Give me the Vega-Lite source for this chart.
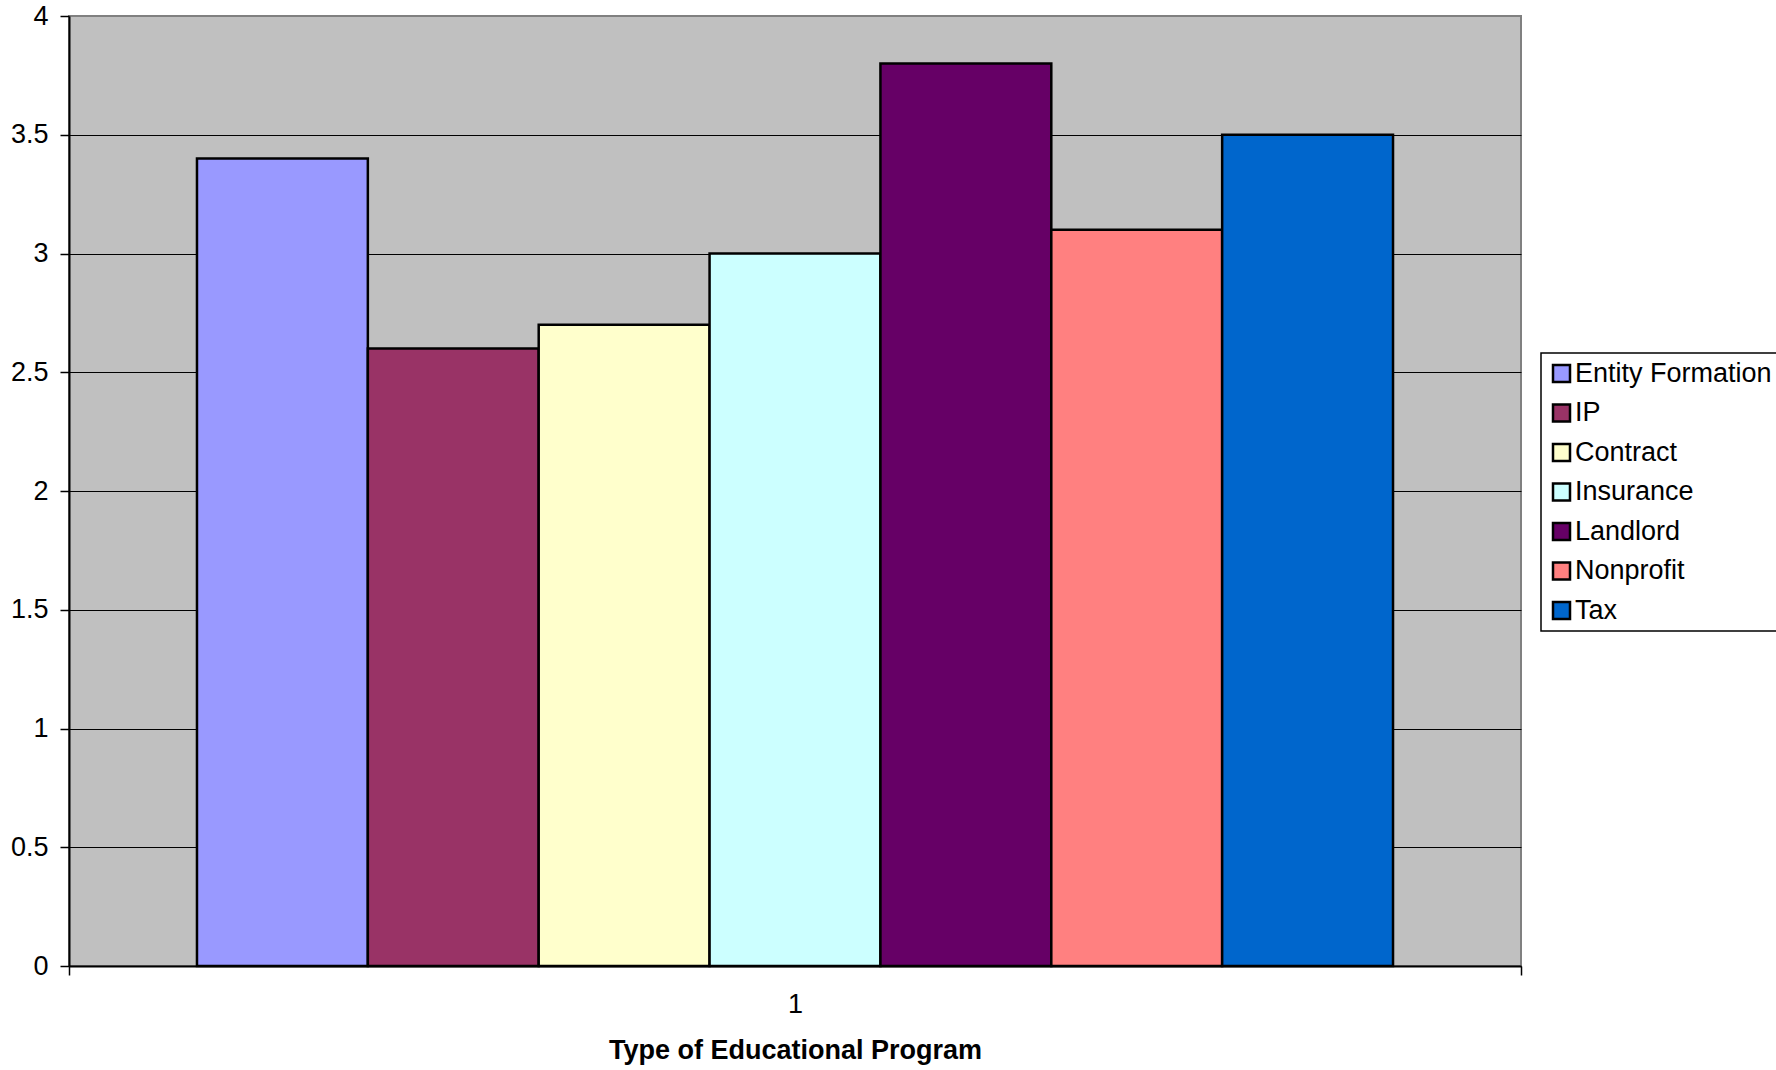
{
  "$schema": "https://vega.github.io/schema/vega-lite/v6.json",
  "width": 1452,
  "height": 950,
  "autosize": {"type": "none"},
  "padding": {"left": 69, "top": 16, "right": 255, "bottom": 104},
  "background": "white",
  "data": {
    "values": [
      {"program": "1", "category": "Entity Formation", "value": 3.4},
      {"program": "1", "category": "IP", "value": 2.6},
      {"program": "1", "category": "Contract", "value": 2.7},
      {"program": "1", "category": "Insurance", "value": 3.0},
      {"program": "1", "category": "Landlord", "value": 3.8},
      {"program": "1", "category": "Nonprofit", "value": 3.1},
      {"program": "1", "category": "Tax", "value": 3.5}
    ]
  },
  "mark": {"type": "bar", "stroke": "black", "strokeWidth": 2.5},
  "encoding": {
    "x": {
      "field": "program",
      "type": "nominal",
      "scale": {"paddingInner": 0, "paddingOuter": 0},
      "axis": {
        "labelAngle": 0,
        "labelFontSize": 27,
        "labelColor": "black",
        "labelPadding": 16,
        "domainColor": "black",
        "domainWidth": 2,
        "ticks": true,
        "tickBand": "extent",
        "tickSize": 9,
        "tickColor": "black",
        "tickWidth": 1.5,
        "title": "Type of Educational Program",
        "titleFontSize": 27,
        "titleFontWeight": "bold",
        "titleColor": "black",
        "titlePadding": 20
      }
    },
    "xOffset": {
      "field": "category",
      "type": "nominal",
      "sort": ["Entity Formation", "IP", "Contract", "Insurance", "Landlord", "Nonprofit", "Tax"],
      "scale": {"paddingInner": 0, "paddingOuter": 0.749}
    },
    "y": {
      "field": "value",
      "type": "quantitative",
      "scale": {"domain": [0, 4], "nice": false, "zero": true},
      "axis": {
        "values": [0, 0.5, 1, 1.5, 2, 2.5, 3, 3.5, 4],
        "format": "~f",
        "title": null,
        "labelFontSize": 27,
        "labelColor": "black",
        "labelPadding": 12,
        "grid": true,
        "gridColor": {"condition": {"test": "datum.value == 4", "value": "#808080"}, "value": "black"},
        "gridWidth": 1,
        "domainColor": "black",
        "domainWidth": 2,
        "tickColor": "black",
        "tickSize": 9,
        "tickWidth": 1.5
      }
    },
    "color": {
      "field": "category",
      "type": "nominal",
      "sort": ["Entity Formation", "IP", "Contract", "Insurance", "Landlord", "Nonprofit", "Tax"],
      "scale": {
        "domain": ["Entity Formation", "IP", "Contract", "Insurance", "Landlord", "Nonprofit", "Tax"],
        "range": ["#9999FF", "#993366", "#FFFFCC", "#CCFFFF", "#660066", "#FF8080", "#0066CC"]
      },
      "legend": {
        "title": null,
        "orient": "none",
        "legendX": 1472,
        "legendY": 337,
        "symbolType": "square",
        "symbolSize": 289,
        "symbolStrokeColor": "black",
        "symbolStrokeWidth": 2.5,
        "symbolOpacity": 1,
        "labelFontSize": 27,
        "labelColor": "black",
        "labelOffset": 0,
        "labelLimit": 500,
        "rowPadding": 11.5,
        "padding": 7,
        "strokeColor": "black",
        "fillColor": "white"
      }
    }
  },
  "config": {
    "font": "Liberation Sans",
    "view": {"fill": "#C0C0C0", "stroke": "#808080", "strokeWidth": 2},
    "axis": {"labelFont": "Liberation Sans", "titleFont": "Liberation Sans"},
    "legend": {"labelFont": "Liberation Sans", "strokeWidth": 1.5}
  }
}
